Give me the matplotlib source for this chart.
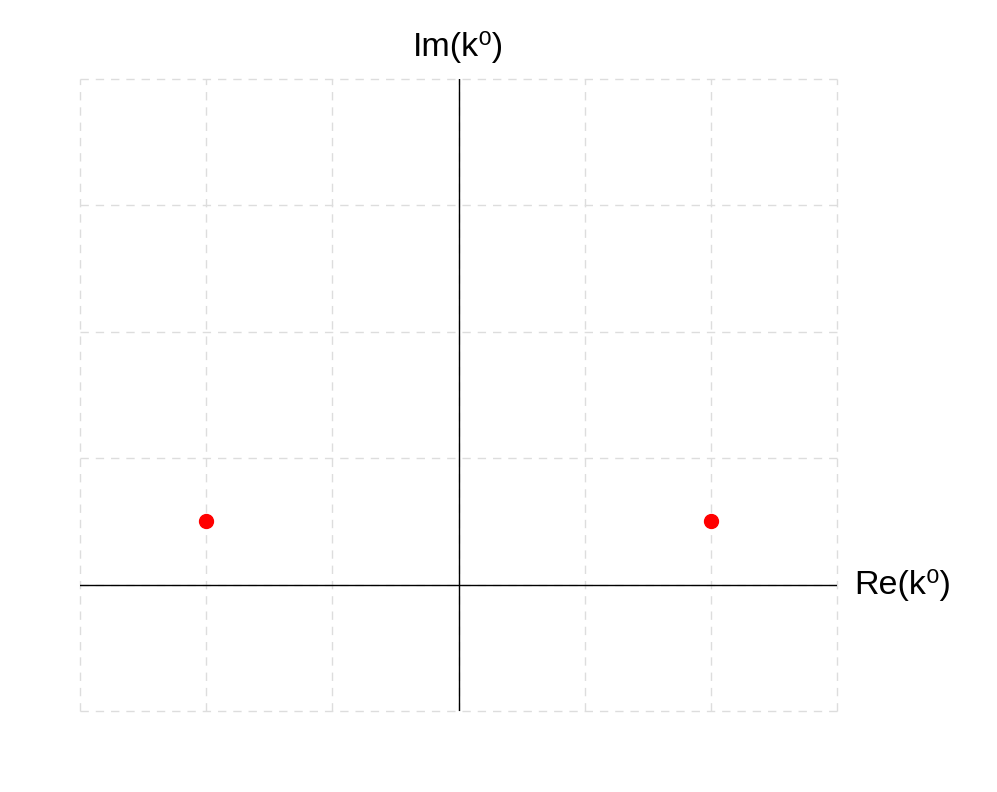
import matplotlib.pyplot as plt

plt.rcParams['font.family'] = ['Liberation Sans', 'DejaVu Sans']

# pole positions in the complex k0 plane
re_vals = [-2, 2]
im_vals = [0.5, 0.5]

x_ticks = [-3, -2, -1, 0, 1, 2, 3]
y_ticks = [-1, 0, 1, 2, 3, 4]

fig = plt.figure(figsize=(9.97, 7.92), dpi=100)
ax = fig.add_axes([80 / 997, 1 - 711 / 792, (837 - 80) / 997, (711 - 79) / 792])
ax.set_xlim(-3, 3)
ax.set_ylim(-1, 4)
ax.set_xticks(x_ticks)
ax.set_yticks(y_ticks)
ax.grid(True, color='#dddddd', linestyle=(0, (6, 5)), linewidth=1)
for gl in ax.get_xgridlines() + ax.get_ygridlines():
    gl.set_clip_on(False)
ax.tick_params(length=0, labelbottom=False, labelleft=False)
for s in ax.spines.values():
    s.set_visible(False)

ax.axhline(0, color='black', linewidth=1)
ax.axvline(0, color='black', linewidth=1)

ax.plot(re_vals, im_vals, 'o', color='red', markersize=10, zorder=3)

ax.text(0, 4.25, 'Im(k⁰)', ha='center', va='center', fontsize=24.5)
ax.text(3.14, 0, 'Re(k⁰)', ha='left', va='center', fontsize=24.5)

fig.savefig('out.png', dpi=100)
